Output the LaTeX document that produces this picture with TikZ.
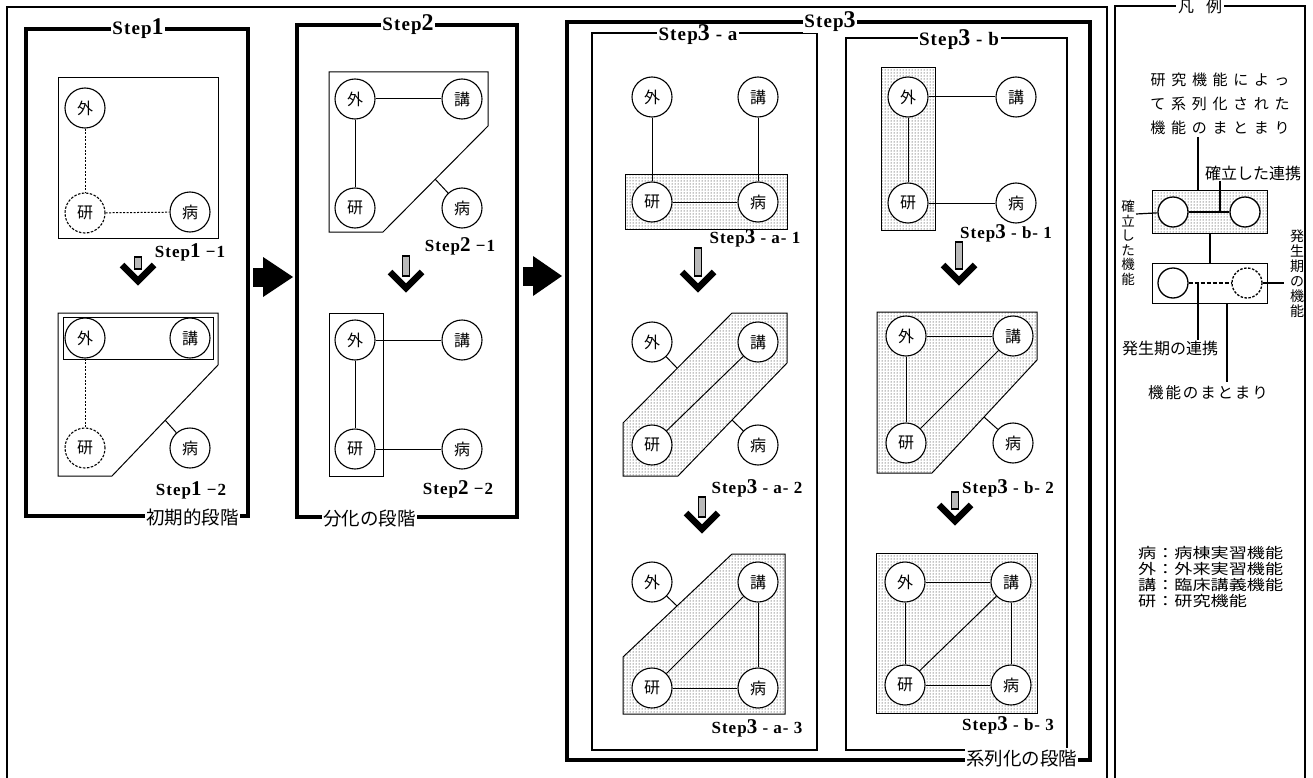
\documentclass[tikz,border=0pt]{standalone}
\usepackage{fontspec}
\usepackage{graphicx}
\setmainfont{Liberation Serif}
\newfontfamily\jp{Noto Sans CJK JP}
\newfontfamily\jpls[LetterSpace=12]{Noto Sans CJK JP}
\newfontfamily\jplw[LetterSpace=38]{Noto Sans CJK JP}
\newfontfamily\stp[LetterSpace=6]{Liberation Serif}
\usetikzlibrary{patterns,calc}
\newcommand\bgd[1]{{\fontsize{24}{24}\selectfont #1}}
\newcommand\bgsm[1]{{\fontsize{21}{21}\selectfont #1}}
\newcommand\mydarr[4]{%
  \coordinate (#4t) at (#1,#2);
  \coordinate (#4h) at (#1,#3);
  \draw[line width=1.8pt,fill=gray!55] ($(#4t)+(-3.5,0)$) rectangle ($(#4h)+(3.5,-12)$);
  \draw[line width=6.5pt,miter limit=10] ($(#4h)+(-16,-16)$) -- (#4h) -- ($(#4h)+(16,-16)$);
}
\newcommand\myrarr[5]{%
  \coordinate (#5a) at (#1,#4);
  \coordinate (#5b) at (#3,#4);
  \fill ($(#5a)+(0,-9)$) rectangle ($(#5a)+(#2-#1,10)$);
  \fill ($(#5a)+(#2-#1-2,-20)$) -- (#5b) -- ($(#5a)+(#2-#1-2,20)$) -- cycle;
}
\begin{document}
\begin{tikzpicture}[x=1pt,y=-1pt,
  fn/.style={circle,draw,fill=white,line width=1.1pt,minimum size=40pt,inner sep=0pt,font=\jp\fontsize{16}{16}\selectfont},
  fnd/.style={fn,dash pattern=on 2.5pt off 1.5pt},
  lfn/.style={circle,draw,fill=white,line width=1.3pt,minimum size=30pt,inner sep=0pt},
  boxl/.style={draw,line width=1pt},
  shd/.style={draw,line width=1pt,pattern=dots,pattern color=black},
  bigframe/.style={draw,line width=3.2pt},
  midframe/.style={draw,line width=1.8pt},
  lnk/.style={line width=1pt},
  dlnk/.style={line width=1pt,dash pattern=on 2pt off 1.5pt},
  steplbl/.style={fill=white,inner sep=1.5pt,font=\stp\bfseries\fontsize{19}{19}\selectfont},
  sublbl/.style={inner sep=0pt,font=\stp\bfseries\fontsize{17}{17}\selectfont},
  stagelbl/.style={fill=white,inner sep=1pt,font=\jp\fontsize{18.5}{18.5}\selectfont},
  lgtxt/.style={inner sep=0pt,font=\jp\fontsize{14}{14}\selectfont},
]
\useasboundingbox (0,0) rectangle (1313,778);
% outer frames
\draw[line width=1.5pt] (7,790) -- (7,7) -- (1107,7) -- (1107,790);
\draw[midframe] (1115,790) -- (1115,6) -- (1305,6) -- (1305,790);
\node[fill=white,inner sep=2pt,font=\jp\fontsize{16}{16}\selectfont] (lgtitle) at (1200,6) {凡\hspace{12pt}例};

% ===== Step 1 =====
\draw[bigframe] (26,29) rectangle (248,516);
\node[steplbl] (s1lbl) at (138,29) {Step\bgd{1}};
\node[stagelbl,anchor=west] (s1stage) at (145,517) {初期的段階};
% 1-1
\draw[boxl] (58,78) rectangle (218,238);
\node[fn] (a1g) at (85,108) {外};
\node[fnd] (a1k) at (85,213) {研};
\node[fn] (a1b) at (190,212) {病};
\draw[dlnk] (a1g) -- (a1k);
\draw[dlnk] (a1k) -- (a1b);
\node[sublbl] (a1l) at (190,252) {Step\bgsm{1}\ −1};
\mydarr{138}{257}{281}{d1}
% 1-2
\draw[boxl] (58,313) -- (218,313) -- (218,365) -- (112,476) -- (58,476) -- cycle;
\draw[boxl] (63,317) rectangle (213,359);
\node[fn] (a2g) at (85,338) {外};
\node[fn] (a2c) at (190,338) {講};
\node[fnd] (a2k) at (85,448) {研};
\node[fn] (a2b) at (190,448) {病};
\coordinate (a2e) at (165,420);
\draw[dlnk] (a2g) -- (a2k);
\draw[lnk] (a2e) -- (a2b);
\node[sublbl] (a2l) at (191,490) {Step\bgsm{1}\ −2};

% big arrows
\myrarr{253}{265}{293}{277}{r1}
\myrarr{523}{535}{562}{276}{r2}

% ===== Step 2 =====
\draw[bigframe] (297,25) rectangle (517,517);
\node[steplbl] (s2lbl) at (408,25) {Step\bgd{2}};
\node[stagelbl,anchor=west] (s2stage) at (322,519) {分化の段階};
% 2-1
\draw[boxl] (329,72) -- (488,72) -- (488,126) -- (383,232) -- (329,232) -- cycle;
\node[fn] (b1g) at (355,99) {外};
\node[fn] (b1c) at (462,99) {講};
\node[fn] (b1k) at (355,208) {研};
\node[fn] (b1b) at (462,208) {病};
\coordinate (b1e) at (435,179);
\draw[lnk] (b1g) -- (b1c);
\draw[lnk] (b1g) -- (b1k);
\draw[lnk] (b1e) -- (b1b);
\node[sublbl] (b1l) at (460,246) {Step\bgsm{2}\ −1};
\mydarr{406}{256}{288}{d2}
% 2-2
\draw[boxl] (329,313) rectangle (383,476);
\node[fn] (b2g) at (355,340) {外};
\node[fn] (b2c) at (462,340) {講};
\node[fn] (b2k) at (355,449) {研};
\node[fn] (b2b) at (462,449) {病};
\draw[lnk] (b2g) -- (b2k);
\draw[lnk] (b2g) -- (b2c);
\draw[lnk] (b2k) -- (b2b);
\node[sublbl] (b2l) at (458,489) {Step\bgsm{2}\ −2};

% ===== Step 3 =====
\draw[bigframe] (567,22) rectangle (1090,760);
\draw[midframe] (592,33) rectangle (817,750);
\node[steplbl,inner ysep=0pt] (s3albl) at (698,35) {Step\bgd{3}\ -\ a};
\draw[midframe] (846,38) rectangle (1067,750);
\node[steplbl,inner ysep=0pt] (s3blbl) at (959,40) {Step\bgd{3}\ -\ b};
\draw[bigframe] (567,22) -- (1090,22);
\node[steplbl] (s3lbl) at (830,22) {Step\bgd{3}};
\node[stagelbl,anchor=west] (s3stage) at (965,758) {系列化の段階};

% 3-a-1
\draw[shd] (625,175) rectangle (787,229);
\node[fn] (c1g) at (652,97) {外};
\node[fn] (c1c) at (758,97) {講};
\node[fn] (c1k) at (652,202) {研};
\node[fn] (c1b) at (758,202) {病};
\draw[lnk] (c1g) -- (c1k);
\draw[lnk] (c1c) -- (c1b);
\draw[lnk] (c1k) -- (c1b);
\node[sublbl] (c1l) at (755,238) {Step\bgsm{3}\ -\ a-\ 1};
\mydarr{698}{248}{288}{d3}
% 3-a-2
\draw[shd] (623,423) -- (732,313) -- (787,313) -- (787,363) -- (678,476) -- (623,476) -- cycle;
\node[fn] (c2g) at (652,342) {外};
\node[fn] (c2c) at (758,342) {講};
\node[fn] (c2k) at (652,445) {研};
\node[fn] (c2b) at (758,445) {病};
\coordinate (c2e1) at (677,368);
\coordinate (c2e2) at (732,420);
\draw[lnk] (c2k) -- (c2c);
\draw[lnk] (c2e1) -- (c2g);
\draw[lnk] (c2e2) -- (c2b);
\node[sublbl] (c2l) at (757,488) {Step\bgsm{3}\ -\ a-\ 2};
\mydarr{702}{497}{529}{d4}
% 3-a-3
\draw[shd] (623,657) -- (732,554) -- (785,554) -- (785,714) -- (623,714) -- cycle;
\node[fn] (c3g) at (652,582) {外};
\node[fn] (c3c) at (758,582) {講};
\node[fn] (c3k) at (652,688) {研};
\node[fn] (c3b) at (758,688) {病};
\coordinate (c3e) at (677,606);
\draw[lnk] (c3k) -- (c3c);
\draw[lnk] (c3c) -- (c3b);
\draw[lnk] (c3k) -- (c3b);
\draw[lnk] (c3e) -- (c3g);
\node[sublbl] (c3l) at (757,728) {Step\bgsm{3}\ -\ a-\ 3};

% 3-b-1
\draw[shd] (881,68) rectangle (935,230);
\node[fn] (e1g) at (908,97) {外};
\node[fn] (e1c) at (1016,97) {講};
\node[fn] (e1k) at (908,203) {研};
\node[fn] (e1b) at (1016,203) {病};
\draw[lnk] (e1g) -- (e1k);
\draw[lnk] (e1g) -- (e1c);
\draw[lnk] (e1k) -- (e1b);
\node[sublbl] (e1l) at (1006,233) {Step\bgsm{3}\ -\ b-\ 1};
\mydarr{959}{242}{281}{d5}
% 3-b-2
\draw[shd] (877,312) -- (1037,312) -- (1037,360) -- (932,473) -- (877,473) -- cycle;
\node[fn] (e2g) at (906,336) {外};
\node[fn] (e2c) at (1013,336) {講};
\node[fn] (e2k) at (906,443) {研};
\node[fn] (e2b) at (1013,443) {病};
\coordinate (e2e) at (984,417);
\draw[lnk] (e2g) -- (e2c);
\draw[lnk] (e2g) -- (e2k);
\draw[lnk] (e2k) -- (e2c);
\draw[lnk] (e2e) -- (e2b);
\node[sublbl] (e2l) at (1008,488) {Step\bgsm{3}\ -\ b-\ 2};
\mydarr{955}{492}{521}{d6}
% 3-b-3
\draw[shd] (876,553) rectangle (1037,713);
\node[fn] (e3g) at (905,582) {外};
\node[fn] (e3c) at (1011,582) {講};
\node[fn] (e3k) at (905,685) {研};
\node[fn] (e3b) at (1011,685) {病};
\draw[lnk] (e3g) -- (e3c);
\draw[lnk] (e3g) -- (e3k);
\draw[lnk] (e3c) -- (e3b);
\draw[lnk] (e3k) -- (e3b);
\draw[lnk] (e3k) -- (e3c);
\node[sublbl] (e3l) at (1008,725) {Step\bgsm{3}\ -\ b-\ 3};

% ===== Legend =====
\node[lgtxt,align=center,font=\jplw\fontsize{15}{24}\selectfont] (lgtop) at (1220,104) {研究機能によっ\\て系列化された\\機能のまとまり};
\node[shd,minimum width=115pt,minimum height=43pt,inner sep=0pt] (lgr1) at (1210,211.5) {};
\node[boxl,minimum width=115pt,minimum height=40pt,inner sep=0pt] (lgr2) at (1210,283) {};
\node[lfn] (lc1) at (1173,212) {};
\node[lfn] (lc2) at (1245,212) {};
\node[lfn] (lc3) at (1173,283) {};
\node[lfn,dash pattern=on 2.5pt off 1.5pt] (lc4) at (1247,283) {};
\draw[line width=1.2pt] (lc1) -- (lc2);
\draw[line width=1.2pt,dash pattern=on 4pt off 2pt] (lc3) -- (lc4);
\draw[line width=1.2pt] (lgr1) -- (lgr2);
% leaders
\coordinate (lt1) at (1198,137);
\draw[line width=1.2pt] (lt1) -- (lt1 |- lgr1.north);
\node[lgtxt,font=\jp\fontsize{16}{16}\selectfont] (lk) at (1253,173) {確立した連携};
\coordinate (lk1) at (1220,181);
\coordinate (lk2) at (1220,212);
\draw[line width=1.2pt] (lk1) -- (lk2);
\node[lgtxt,align=center,font=\jp\fontsize{13.5}{14.5}\selectfont] (lv1) at (1128,243) {確\\立\\し\\た\\機\\能};
\coordinate (lv1e) at (1136,214);
\draw[line width=1.2pt] (lv1e) -- (lc1);
\node[lgtxt,align=center,font=\jp\fontsize{14}{15}\selectfont] (lv2) at (1297,274) {発\\生\\期\\の\\機\\能};
\coordinate (lv2e) at (1284,283);
\draw[line width=1.2pt] (lc4) -- (lv2e);
\node[lgtxt,font=\jp\fontsize{16}{16}\selectfont] (lh) at (1170,348) {発生期の連携};
\coordinate (lh1) at (1198,283);
\coordinate (lh2) at (1198,340);
\draw[line width=1.2pt] (lh1) -- (lh2);
\node[lgtxt,font=\jpls\fontsize{15.5}{15.5}\selectfont] (lbot) at (1208,393) {機能のまとまり};
\coordinate (lb1) at (1227,303);
\coordinate (lb2) at (1227,382);
\draw[line width=1.2pt] (lb1) -- (lb2);
% key
\node[lgtxt,align=left,anchor=north west,inner sep=0pt] (key) at (1138,546) {\scalebox{1.25}[1]{\jp\fontsize{14.5}{15}\selectfont\begin{tabular}{@{}l@{}}病：病棟実習機能\\[-0.5pt]外：外来実習機能\\[-0.5pt]講：臨床講義機能\\[-0.5pt]研：研究機能\end{tabular}}};
\end{tikzpicture}
\end{document}
